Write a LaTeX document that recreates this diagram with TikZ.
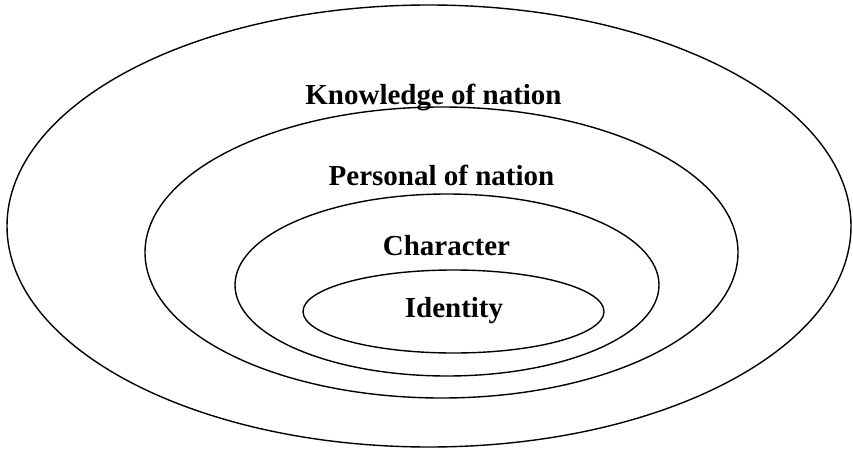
\documentclass[tikz,border=0pt]{standalone}
\usepackage{fontspec}
\setmainfont{Liberation Serif}
\usepackage{tikz}
\usetikzlibrary{shapes,positioning,calc}

\begin{document}
\begin{tikzpicture}[x=1pt, y=1pt, ring/.style={ellipse, draw, line width=1.4pt, inner sep=0pt}, lbl/.style={anchor=base, inner sep=0pt, font=\fontsize{29}{34}\selectfont\bfseries}]
        \useasboundingbox (0,0) rectangle (853,448);

        % Rings
        \node (knowledge) [ring, minimum width=844, minimum height=442] at (429,222) {};
        \node (personal) [ring, minimum width=593, minimum height=291] at (441.5,195.5) {};
        \node (character) [ring, minimum width=424, minimum height=182] at (447,163) {};
        \node (identity) [ring, minimum width=301, minimum height=83] at (453.5,136.5) {};

        % Labels
        \node (knowledgetext) [lbl] at (433.5,343) {Knowledge of nation};
        \node (personaltext) [lbl] at (441.5,263) {Personal of nation};
        \node (charactertext) [lbl] at (446.5,193) {Character};
        \node (identitytext) [lbl] at (454,131) {Identity};
    \end{tikzpicture}
\end{document}
